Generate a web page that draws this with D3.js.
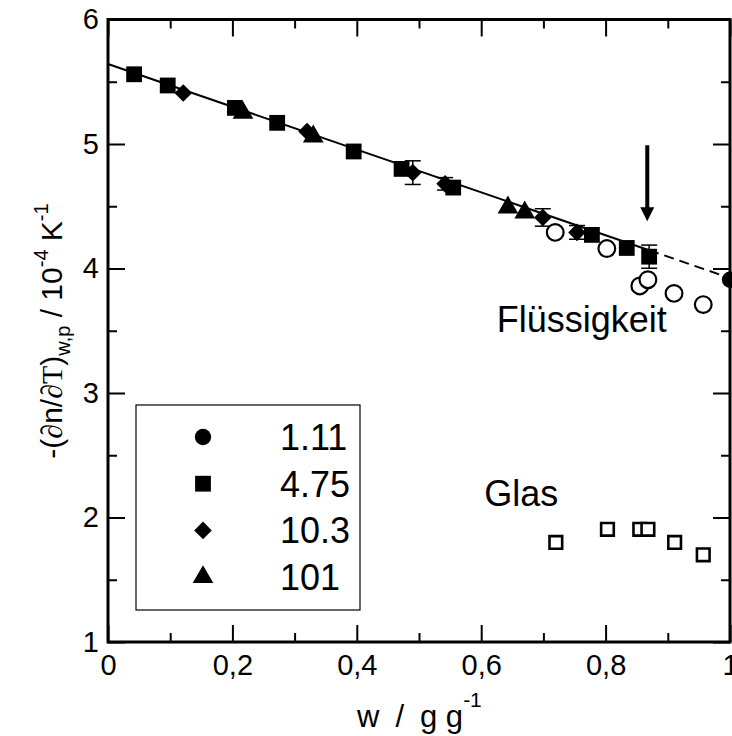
<!DOCTYPE html>
<html>
<head>
<meta charset="utf-8">
<script src="https://cdn.jsdelivr.net/npm/d3@7"></script>
<style>
  body { margin: 0; background: #fff; }
  svg { display: block; font-family: "Liberation Sans", Arial, sans-serif; }
</style>
</head>
<body>
<div id="chart"></div>
<script>
// [w, value] pairs
const series111 = [[1.0, 3.91]];
const series475 = [[0.042, 5.56], [0.096, 5.47], [0.204, 5.29], [0.272, 5.17], [0.395, 4.94],
    [0.472, 4.80], [0.555, 4.65], [0.778, 4.27], [0.834, 4.165], [0.870, 4.095]];
const series103 = [[0.121, 5.41], [0.320, 5.10], [0.490, 4.77], [0.542, 4.68], [0.699, 4.41], [0.754, 4.29]];
const series101 = [[0.217, 5.25], [0.330, 5.06], [0.643, 4.49], [0.670, 4.45]];
const liquidPoints = [[0.719, 4.29], [0.802, 4.16], [0.855, 3.86], [0.868, 3.91], [0.910, 3.80], [0.957, 3.71]];
const glassPoints = [[0.720, 1.80], [0.803, 1.905], [0.855, 1.905], [0.868, 1.905], [0.911, 1.80], [0.957, 1.70]];
// [w, value, +/- error]
const errorBars = [[0.490, 4.77, 0.095], [0.542, 4.68, 0.05], [0.699, 4.41, 0.07], [0.754, 4.29, 0.055], [0.870, 4.095, 0.093]];
const fitSolid = [[0, 5.643], [0.87, 4.147]];
const fitDashed = [[0.87, 4.147], [1.0, 3.923]];
const arrowW = 0.867, arrowFrom = 4.99, arrowTo = 4.38;
const legendLabels = ["1.11", "4.75", "10.3", "101"];
const xTicks = [0, 0.2, 0.4, 0.6, 0.8, 1];
const xTickLabels = ["0", "0,2", "0,4", "0,6", "0,8", "1"];
const yTicks = [1, 2, 3, 4, 5, 6];

const width = 732, height = 736;
const margin = {top: 19.5, left: 108, right: 2, bottom: 94};
const innerW = width - margin.left - margin.right;
const innerH = height - margin.top - margin.bottom;

const svg = d3.select("#chart").append("svg")
    .attr("width", width)
    .attr("height", height);

const x = d3.scaleLinear().domain([0, 1]).range([0, innerW]);
const y = d3.scaleLinear().domain([1, 6]).range([innerH, 0]);
const g = svg.append("g").attr("transform", `translate(${margin.left},${margin.top})`);

// ticks on all four sides, pointing inward
const major = 17, minor = 9;
const xMinorTicks = d3.range(1, 10, 2).map(d => d / 10);
const yMinorTicks = d3.range(1.5, 6, 1);
g.append("g").attr("transform", `translate(0,${innerH})`)
    .call(d3.axisBottom(x).tickValues(xTicks).tickSize(-major).tickFormat((d, i) => xTickLabels[i]).tickPadding(12))
    .call(a => a.select(".domain").remove());
g.append("g").attr("transform", `translate(0,${innerH})`)
    .call(d3.axisBottom(x).tickValues(xMinorTicks).tickSize(-minor).tickFormat(""))
    .call(a => a.select(".domain").remove());
g.append("g")
    .call(d3.axisTop(x).tickValues(xTicks).tickSize(-major).tickFormat(""))
    .call(a => a.select(".domain").remove());
g.append("g")
    .call(d3.axisTop(x).tickValues(xMinorTicks).tickSize(-minor).tickFormat(""))
    .call(a => a.select(".domain").remove());
g.append("g")
    .call(d3.axisLeft(y).tickValues(yTicks).tickSize(-major).tickFormat(d3.format("d")).tickPadding(9))
    .call(a => a.select(".domain").remove());
g.append("g")
    .call(d3.axisLeft(y).tickValues(yMinorTicks).tickSize(-minor).tickFormat(""))
    .call(a => a.select(".domain").remove());
g.append("g").attr("transform", `translate(${innerW},0)`)
    .call(d3.axisRight(y).tickValues(yTicks).tickSize(-major).tickFormat(""))
    .call(a => a.select(".domain").remove());
g.append("g").attr("transform", `translate(${innerW},0)`)
    .call(d3.axisRight(y).tickValues(yMinorTicks).tickSize(-minor).tickFormat(""))
    .call(a => a.select(".domain").remove());

g.selectAll(".tick line").attr("stroke", "#000").attr("stroke-width", 2);
g.selectAll(".tick text").attr("fill", "#000").style("font-size", "29px")
    .style("font-family", "'Liberation Sans', Arial, sans-serif");

// frame
g.append("rect")
    .attr("width", innerW).attr("height", innerH)
    .attr("fill", "none").attr("stroke", "#000").attr("stroke-width", 3);

// fit line
const line = d3.line().x(d => x(d[0])).y(d => y(d[1]));
g.append("path").datum(fitSolid).attr("d", line)
    .attr("fill", "none").attr("stroke", "#000").attr("stroke-width", 2);
g.append("path").datum(fitDashed).attr("d", line)
    .attr("fill", "none").attr("stroke", "#000").attr("stroke-width", 2)
    .attr("stroke-dasharray", "10,6");

// error bars
const cap = 8;
const eb = g.append("g").attr("stroke", "#000").attr("stroke-width", 1.5);
errorBars.forEach(d => {
    eb.append("line").attr("x1", x(d[0])).attr("x2", x(d[0])).attr("y1", y(d[1] - d[2])).attr("y2", y(d[1] + d[2]));
    eb.append("line").attr("x1", x(d[0]) - cap).attr("x2", x(d[0]) + cap).attr("y1", y(d[1] - d[2])).attr("y2", y(d[1] - d[2]));
    eb.append("line").attr("x1", x(d[0]) - cap).attr("x2", x(d[0]) + cap).attr("y1", y(d[1] + d[2])).attr("y2", y(d[1] + d[2]));
});

const symCircle = d3.symbol().type(d3.symbolCircle).size(210);
const symSquare = d3.symbol().type(d3.symbolSquare).size(250);
const symDiamond = d3.symbol().type(d3.symbolSquare).size(155); // rotated 45 deg
const symTriangle = d3.symbol().type(d3.symbolTriangle).size(185);

function drawSeries(data, sym, fill, stroke, sw, rot) {
    g.append("g").selectAll("path").data(data).enter().append("path")
        .attr("transform", d => `translate(${x(d[0])},${y(d[1])}) rotate(${rot || 0})`)
        .attr("d", sym)
        .attr("fill", fill)
        .attr("stroke", stroke)
        .attr("stroke-width", sw);
}

drawSeries(liquidPoints, d3.symbol().type(d3.symbolCircle).size(220), "#fff", "#000", 2.2);
drawSeries(glassPoints, d3.symbol().type(d3.symbolSquare).size(160), "#fff", "#000", 2.6);
drawSeries(series475, symSquare, "#000", "none", 0);
drawSeries(series103, symDiamond, "#000", "none", 0, 45);
drawSeries(series101, symTriangle, "#000", "none", 0);
drawSeries(series111, symCircle, "#000", "none", 0);

// arrow
g.append("line")
    .attr("x1", x(arrowW)).attr("x2", x(arrowW))
    .attr("y1", y(arrowFrom)).attr("y2", y(arrowTo) - 12)
    .attr("stroke", "#000").attr("stroke-width", 4);
g.append("path")
    .attr("d", `M${x(arrowW) - 7},${y(arrowTo) - 14} L${x(arrowW) + 7},${y(arrowTo) - 14} L${x(arrowW)},${y(arrowTo)} Z`)
    .attr("fill", "#000");

// annotations
g.append("text").attr("x", x(0.625)).attr("y", y(3.49))
    .style("font-size", "36px").text("Flüssigkeit");
g.append("text").attr("x", x(0.605)).attr("y", y(2.09))
    .style("font-size", "36px").text("Glas");

// legend
const legend = svg.append("g").attr("transform", "translate(136,405)");
legend.append("rect").attr("width", 224).attr("height", 205)
    .attr("fill", "#fff").attr("stroke", "#000").attr("stroke-width", 1.2);
const legendSyms = [symCircle, symSquare, symDiamond, symTriangle];
legendLabels.forEach((lab, i) => {
    const cy = 32 + i * 46.7;
    legend.append("path").attr("transform", `translate(67,${cy}) rotate(${i === 2 ? 45 : 0})`)
        .attr("d", legendSyms[i]).attr("fill", "#000");
    legend.append("text").attr("x", 144).attr("y", cy + 13).style("font-size", "36px").text(lab);
});

// axis titles
const xt = svg.append("text").attr("x", 357).attr("y", 727).style("font-size", "31px");
xt.append("tspan").text("w");
xt.append("tspan").attr("dx", 16).text("/");
xt.append("tspan").attr("dx", 16).text("g g");
xt.append("tspan").attr("dy", -20).style("font-size", "21px").text("-1");

const yt = svg.append("text")
    .attr("transform", "translate(62,331) rotate(-90)")
    .attr("text-anchor", "middle")
    .style("font-size", "30px");
yt.append("tspan").text("-(");
yt.append("tspan").style("font-family", "'Liberation Serif', serif").text("∂");
yt.append("tspan").text("n/");
yt.append("tspan").style("font-family", "'Liberation Serif', serif").text("∂T");
yt.append("tspan").text(")");
yt.append("tspan").attr("dy", 8).style("font-size", "20px").text("w,p");
yt.append("tspan").attr("dy", -8).text(" / 10");
yt.append("tspan").attr("dy", -14).style("font-size", "20px").text("-4");
yt.append("tspan").attr("dy", 14).text(" K");
yt.append("tspan").attr("dy", -14).style("font-size", "20px").text("-1");
</script>
</body>
</html>
